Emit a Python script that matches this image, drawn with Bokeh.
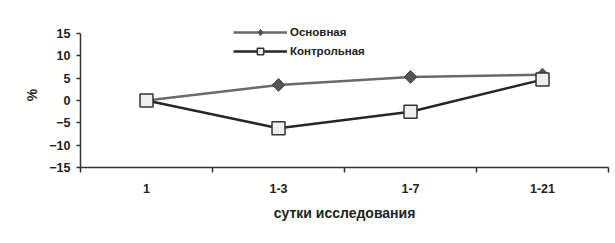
import math
from bokeh.plotting import figure
from bokeh.models import FixedTicker, Range1d, Legend, LegendItem, ColumnDataSource
from bokeh.embed import file_html
from bokeh.resources import INLINE

categories = ["1", "1-3", "1-7", "1-21"]
osnovnaya = [0, 3.5, 5.3, 5.8]
kontrolnaya = [0, -6.2, -2.5, 4.7]
y_ticks = [-15, -10, -5, 0, 5, 10, 15]

xs = [i + 0.5 for i in range(len(categories))]
src = ColumnDataSource(dict(x=xs, a=osnovnaya, b=kontrolnaya))

FONT = "Liberation Sans"
TXT = "#222222"

p = figure(frame_width=528, frame_height=145, output_backend="svg", toolbar_location=None,
           x_range=Range1d(0, len(categories)), y_range=Range1d(-15, 17.5),
           min_border_left=80, min_border_right=5, min_border_top=22, min_border_bottom=68)
p.outline_line_color = None
p.xgrid.grid_line_color = None
p.ygrid.grid_line_color = None
p.background_fill_color = "white"

# x axis
xa = p.xaxis[0]
xa.ticker = FixedTicker(ticks=xs, minor_ticks=list(range(len(categories) + 1)))
xa.major_label_overrides = {x: c for x, c in zip(xs, categories)}
xa.major_tick_line_color = None
xa.major_tick_out = 0
xa.major_tick_in = 0
xa.minor_tick_out = 5
xa.minor_tick_in = 0
xa.minor_tick_line_color = "#333333"
xa.minor_tick_line_width = 1.5
xa.axis_line_color = "#333333"
xa.axis_line_width = 1.5
xa.major_label_standoff = 11
xa.major_label_text_font = FONT
xa.major_label_text_font_style = "bold"
xa.major_label_text_font_size = "12.5px"
xa.major_label_text_color = TXT
xa.axis_label = "сутки исследования"
xa.axis_label_text_font = FONT
xa.axis_label_text_font_style = "bold"
xa.axis_label_text_font_size = "14px"
xa.axis_label_text_color = TXT
xa.axis_label_standoff = 9

# y axis
ya = p.yaxis[0]
ya.ticker = FixedTicker(ticks=y_ticks)
ya.bounds = (-15, 15)
ya.minor_tick_line_color = None
ya.major_tick_out = 4
ya.major_tick_in = 0
ya.major_tick_line_color = "#333333"
ya.major_tick_line_width = 1.5
ya.axis_line_color = "#333333"
ya.axis_line_width = 1.5
ya.major_label_standoff = 6
ya.major_label_text_font = FONT
ya.major_label_text_font_style = "bold"
ya.major_label_text_font_size = "12.5px"
ya.major_label_text_color = TXT
ya.axis_label = "%"
ya.axis_label_text_font = FONT
ya.axis_label_text_font_style = "bold"
ya.axis_label_text_font_size = "14px"
ya.axis_label_text_color = TXT
ya.axis_label_standoff = 6

la = p.line("x", "a", source=src, line_color="#6a6a6a", line_width=2.5)
ma = p.scatter("x", "a", source=src, marker="square", angle=math.pi / 4, size=9,
               fill_color="#555555", line_color="#444444", line_width=1)
# legend-only marker (off-canvas NaN point) so the legend shows a diamond
ma_leg = p.scatter(x=[float("nan")], y=[float("nan")], marker="diamond", size=13,
                   fill_color="#555555", line_color="#444444", line_width=1)
lb = p.line("x", "b", source=src, line_color="#262626", line_width=2.5)
mb = p.scatter("x", "b", source=src, marker="square", size=13,
               fill_color="#eeeeee", line_color="#333333", line_width=1.5)

legend = Legend(items=[LegendItem(label="Основная", renderers=[la, ma_leg]),
                       LegendItem(label="Контрольная", renderers=[lb, mb])],
                location=(153, 108), orientation="vertical")
legend.glyph_width = 54
legend.glyph_height = 16
legend.label_height = 16
legend.spacing = 3
legend.padding = 0
legend.margin = 0
legend.label_standoff = 3
legend.border_line_color = None
legend.background_fill_alpha = 0
legend.label_text_font = FONT
legend.label_text_font_style = "bold"
legend.label_text_font_size = "11.5px"
legend.label_text_color = TXT
p.add_layout(legend, "center")

open("out.html", "w").write(file_html(p, INLINE))
